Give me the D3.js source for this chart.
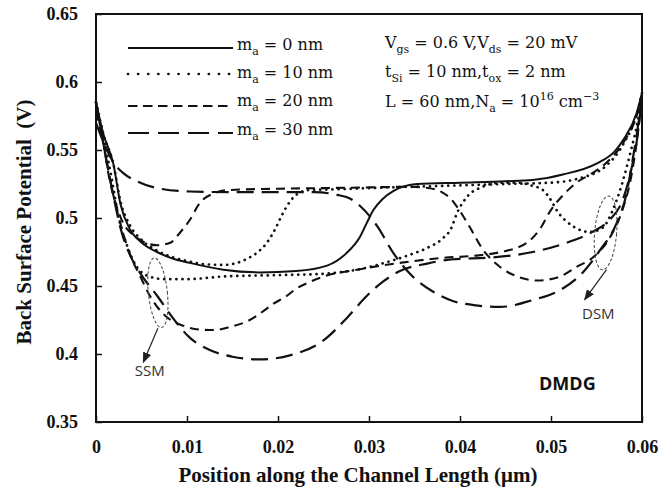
<!DOCTYPE html>
<html>
<head>
<meta charset="utf-8">
<script src="https://cdn.jsdelivr.net/npm/d3@7"></script>
<style>
  body { margin: 0; background: #fff; }
  .tick text { font-family: "Liberation Serif", "Times New Roman", serif; font-weight: bold; font-size: 18px; fill: #111; }
  .tick line { stroke: #111; stroke-width: 1.5; }
  .title { font-family: "Liberation Serif", "Times New Roman", serif; font-weight: bold; font-size: 21px; fill: #111; white-space: pre; }
  .note { font-family: "DejaVu Serif", serif; font-size: 16px; fill: #111; }
  .curve { fill: none; stroke: #111; }
</style>
</head>
<body>
<script>
// ---- data (x in um, back surface potential in V) ----
const xTicks = [0, 0.01, 0.02, 0.03, 0.04, 0.05, 0.06];
const xTickLabels = ["0", "0.01", "0.02", "0.03", "0.04", "0.05", "0.06"];
const yTicks = [0.35, 0.4, 0.45, 0.5, 0.55, 0.6, 0.65];
const yTickLabels = ["0.35", "0.4", "0.45", "0.5", "0.55", "0.6", "0.65"];

// m_a = 0 nm
const ma0 = [[0,0.585],[0.0008,0.562],[0.0019,0.54],[0.0027,0.51],[0.0037,0.492],[0.005,0.482],[0.0067,0.475],
  [0.0085,0.47],[0.0103,0.467],[0.014,0.462],[0.018,0.46],[0.022,0.461],[0.0254,0.465],[0.0275,0.474],[0.029,0.486],
  [0.0298,0.497],[0.0305,0.506],[0.0315,0.514],[0.0327,0.52],[0.0353,0.525],[0.04,0.526],[0.045,0.527],[0.048,0.528],
  [0.0513,0.532],[0.055,0.54],[0.057,0.549],[0.058,0.558],[0.0594,0.577],[0.06,0.592]];
// m_a = 10 nm, two misalignment cases
const ma10a = [[0,0.585],[0.0008,0.562],[0.0019,0.54],[0.0027,0.512],[0.0037,0.495],[0.005,0.484],[0.0067,0.476],
  [0.0085,0.471],[0.0103,0.468],[0.012,0.466],[0.014,0.4655],[0.0155,0.467],[0.0166,0.47],[0.0178,0.475],[0.0188,0.482],
  [0.0197,0.492],[0.0205,0.503],[0.0213,0.512],[0.0222,0.518],[0.0235,0.5206],[0.026,0.521],[0.03,0.522],[0.035,0.523],
  [0.04,0.524],[0.045,0.525],[0.05,0.526],[0.053,0.529],[0.056,0.538],[0.058,0.555],[0.0595,0.578],[0.06,0.592]];
const ma10b = [[0,0.585],[0.0008,0.56],[0.0017,0.53],[0.0025,0.5],[0.0034,0.48],[0.0043,0.466],[0.0055,0.458],
  [0.0075,0.455],[0.01,0.455],[0.014,0.457],[0.02,0.458],[0.025,0.459],[0.0287,0.462],[0.032,0.4676],[0.0345,0.473],
  [0.0364,0.478],[0.0381,0.485],[0.039,0.492],[0.0397,0.504],[0.0407,0.515],[0.0425,0.523],[0.0445,0.526],[0.0463,0.526],
  [0.0478,0.524],[0.0491,0.5206],[0.05,0.513],[0.0506,0.506],[0.0524,0.494],[0.0543,0.4897],[0.0557,0.493],[0.0568,0.506],
  [0.0578,0.525],[0.0588,0.55],[0.0595,0.57],[0.06,0.59]];
// m_a = 20 nm
const ma20a = [[0,0.578],[0.0008,0.555],[0.0015,0.528],[0.0022,0.51],[0.003,0.496],[0.004,0.488],[0.0048,0.484],
  [0.0067,0.48],[0.0081,0.4816],[0.0092,0.489],[0.0103,0.4985],[0.0114,0.511],[0.0129,0.518],[0.0147,0.5206],[0.02,0.5215],
  [0.025,0.522],[0.03,0.5225],[0.0345,0.523],[0.0365,0.522],[0.038,0.519],[0.039,0.514],[0.0398,0.507],[0.0411,0.493],
  [0.0425,0.477],[0.0444,0.464],[0.0463,0.457],[0.0485,0.454],[0.051,0.457],[0.0528,0.464],[0.0546,0.471],[0.0565,0.486],
  [0.0578,0.505],[0.0588,0.53],[0.0595,0.56],[0.06,0.59]];
const ma20b = [[0,0.585],[0.0008,0.555],[0.0018,0.52],[0.0028,0.493],[0.0038,0.472],[0.0048,0.458],[0.0059,0.443],
  [0.0068,0.434],[0.0078,0.427],[0.0095,0.421],[0.0114,0.418],[0.013,0.4176],[0.0148,0.42],[0.0166,0.424],[0.0185,0.432],
  [0.0195,0.437],[0.0208,0.442],[0.022,0.448],[0.0235,0.453],[0.025,0.457],[0.0287,0.462],[0.0345,0.468],[0.038,0.4706],
  [0.042,0.4725],[0.0445,0.475],[0.0474,0.482],[0.0488,0.492],[0.05,0.506],[0.0515,0.518],[0.0528,0.526],[0.0543,0.532],
  [0.056,0.54],[0.058,0.556],[0.0594,0.575],[0.06,0.59]];
// m_a = 30 nm
const ma30a = [[0,0.57],[0.001,0.553],[0.002,0.54],[0.003,0.533],[0.0045,0.527],[0.0067,0.522],[0.0103,0.5195],
  [0.015,0.519],[0.02,0.519],[0.024,0.519],[0.0265,0.517],[0.028,0.514],[0.029,0.509],[0.0309,0.494],[0.0327,0.474],
  [0.0345,0.459],[0.037,0.446],[0.0392,0.439],[0.0415,0.436],[0.0444,0.4346],[0.048,0.4397],[0.051,0.447],[0.0535,0.46],
  [0.0554,0.4765],[0.0572,0.496],[0.0583,0.518],[0.0589,0.54],[0.0595,0.565],[0.06,0.59]];
const ma30b = [[0,0.585],[0.0008,0.555],[0.0018,0.52],[0.0028,0.49],[0.0038,0.472],[0.0048,0.46],[0.0067,0.443],
  [0.0085,0.426],[0.0103,0.412],[0.0125,0.403],[0.015,0.398],[0.018,0.396],[0.0213,0.399],[0.025,0.41],[0.0275,0.426],
  [0.0298,0.443],[0.0315,0.453],[0.0334,0.461],[0.0364,0.4665],[0.039,0.4695],[0.0436,0.471],[0.048,0.475],[0.0518,0.482],
  [0.0546,0.49],[0.0565,0.499],[0.0578,0.512],[0.0588,0.535],[0.0595,0.56],[0.06,0.59]];

const legendLabels = [
  [["m", ""], ["a", "sub"], [" = 0 nm", ""]],
  [["m", ""], ["a", "sub"], [" = 10 nm", ""]],
  [["m", ""], ["a", "sub"], [" = 20 nm", ""]],
  [["m", ""], ["a", "sub"], [" = 30 nm", ""]]
];
const condLines = [
  [["V", ""], ["gs", "sub"], [" = 0.6 V,V", ""], ["ds", "sub"], [" = 20 mV", ""]],
  [["t", ""], ["Si", "sub"], [" = 10 nm,t", ""], ["ox", "sub"], [" = 2 nm", ""]],
  [["L = 60 nm,N", ""], ["a", "sub"], [" = 10", ""], ["16", "sup"], [" cm", ""], ["\u22123", "sup"]]
];
// annotation anchors in data units: ellipse centre, arrow start, arrow end, label
const ssmNote = { c: [0.0068, 0.445], from: [0.0068, 0.419], to: [0.0052, 0.394], label: [0.0059, 0.3875] };
const dsmNote = { c: [0.0560, 0.489], from: [0.0561, 0.462], to: [0.0537, 0.440], label: [0.0552, 0.430] };
const tagPos = [0.0518, 0.378];

// ---- drawing ----
const width = 661, height = 488;
const svg = d3.select("body").append("svg").attr("width", width).attr("height", height);

const x = d3.scaleLinear().domain([0, 0.06]).range([96, 642]);
const y = d3.scaleLinear().domain([0.35, 0.65]).range([422, 14]);

const styles = {
  solid:  { w: 2,   dash: null,    cap: "butt" },
  dotted: { w: 2.7, dash: "0.1 6", cap: "round" },
  dash:   { w: 2.1, dash: "9 6",   cap: "butt" },
  long:   { w: 2.2, dash: "17 8",  cap: "butt" }
};

const series = [
  { data: ma30a, s: "long" }, { data: ma30b, s: "long" },
  { data: ma20a, s: "dash" }, { data: ma20b, s: "dash" },
  { data: ma10a, s: "dotted" }, { data: ma10b, s: "dotted" },
  { data: ma0, s: "solid" }
];

// axes, ticks pointing inward
svg.append("g").attr("transform", "translate(0,422)")
  .call(d3.axisBottom(x).tickValues(xTicks).tickFormat((d, i) => xTickLabels[i])
    .tickSizeInner(-6).tickSizeOuter(0).tickPadding(18))
  .call(g => g.select(".domain").remove());
svg.append("g").attr("transform", "translate(96,0)")
  .call(d3.axisLeft(y).tickValues(yTicks).tickFormat((d, i) => yTickLabels[i])
    .tickSizeInner(-6).tickSizeOuter(0).tickPadding(18))
  .call(g => g.select(".domain").remove());

const line = d3.line().x(d => x(d[0])).y(d => y(d[1])).curve(d3.curveMonotoneX);

svg.append("g").selectAll("path")
  .data(series)
  .join("path")
  .attr("class", "curve")
  .attr("d", d => line(d.data))
  .attr("stroke-width", d => styles[d.s].w)
  .attr("stroke-dasharray", d => styles[d.s].dash)
  .attr("stroke-linecap", d => styles[d.s].cap);

// plot frame
svg.append("rect")
  .attr("x", x(0)).attr("y", y(0.65))
  .attr("width", x(0.06) - x(0)).attr("height", y(0.35) - y(0.65))
  .attr("fill", "none").attr("stroke", "#111").attr("stroke-width", 2);

// axis titles
svg.append("text").attr("class", "title")
  .attr("x", 358).attr("y", 482).attr("text-anchor", "middle")
  .text("Position along the Channel Length (\u03bcm)");
svg.append("text").attr("class", "title")
  .attr("transform", "translate(31,222) rotate(-90)").attr("text-anchor", "middle")
  .text("Back Surface Potential  (V)");

// text with sub/superscripts
function richText(parent, parts, tx, ty) {
  const t = parent.append("text").attr("class", "note").attr("x", tx).attr("y", ty);
  let shift = 0;
  parts.forEach(([str, kind]) => {
    const target = kind === "sub" ? 5 : kind === "sup" ? -7 : 0;
    t.append("tspan")
      .attr("dy", target - shift)
      .attr("font-size", kind ? 11 : null)
      .text(str);
    shift = target;
  });
  return t;
}

// legend
const legendStyles = [
  { s: "solid",  dash: null,     ly: 48 },
  { s: "dotted", dash: "0.1 10", ly: 74 },
  { s: "dash",   dash: "9.5 5.5", ly: 106 },
  { s: "long",   dash: "21 9",   ly: 133 }
];
const textY = [50, 78, 106, 135];
const legend = svg.append("g");
legendStyles.forEach((l, i) => {
  legend.append("line")
    .attr("x1", 128).attr("x2", 233).attr("y1", l.ly).attr("y2", l.ly)
    .attr("stroke", "#111").attr("stroke-width", styles[l.s].w)
    .attr("stroke-dasharray", l.dash).attr("stroke-linecap", styles[l.s].cap);
  richText(legend, legendLabels[i], 237, textY[i]);
});

// operating conditions
const condY = [48, 77, 107];
condLines.forEach((parts, i) => richText(svg, parts, 385, condY[i]));

// SSM / DSM annotations
svg.append("defs").append("marker")
  .attr("id", "arrow").attr("viewBox", "0 0 10 10").attr("refX", 9).attr("refY", 5)
  .attr("markerWidth", 9).attr("markerHeight", 9).attr("orient", "auto")
  .append("path").attr("d", "M0,1 L10,5 L0,9 Z").attr("fill", "#222");

function note(n, rx, ry, angle, label) {
  const g = svg.append("g");
  g.append("ellipse")
    .attr("transform", `translate(${x(n.c[0])},${y(n.c[1])}) rotate(${angle})`)
    .attr("rx", rx).attr("ry", ry)
    .attr("fill", "none").attr("stroke", "#444").attr("stroke-width", 1)
    .attr("stroke-dasharray", "3 2");
  g.append("line")
    .attr("x1", x(n.from[0])).attr("y1", y(n.from[1]))
    .attr("x2", x(n.to[0])).attr("y2", y(n.to[1]))
    .attr("stroke", "#222").attr("stroke-width", 1.2)
    .attr("marker-end", "url(#arrow)");
  g.append("text")
    .attr("x", x(n.label[0])).attr("y", y(n.label[1]))
    .attr("dy", "0.36em").attr("text-anchor", "middle")
    .style("font-family", "'Open Sans', sans-serif").style("font-size", "15px")
    .attr("fill", "#333").text(label);
}
note(ssmNote, 9.5, 35, -6, "SSM");
note(dsmNote, 11, 37, 5, "DSM");

svg.append("text")
  .attr("x", x(tagPos[0])).attr("y", y(tagPos[1]))
  .attr("dy", "0.36em").attr("text-anchor", "middle")
  .style("font-family", "'Open Sans', sans-serif").style("font-size", "18px").style("font-weight", "bold")
  .attr("fill", "#111").text("DMDG");
</script>
</body>
</html>
